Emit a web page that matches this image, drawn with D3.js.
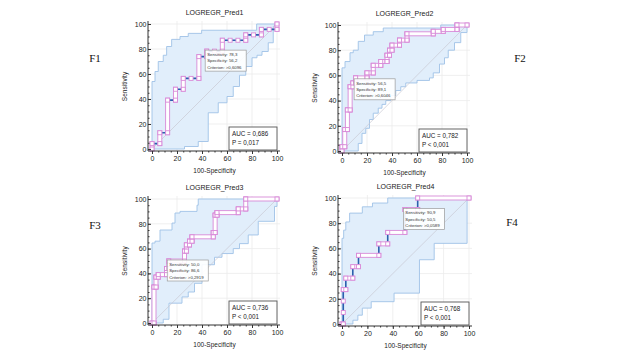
<!DOCTYPE html>
<html>
<head>
<meta charset="utf-8">
<script src="https://cdn.jsdelivr.net/npm/d3@7"></script>
<style>
  body { margin: 0; background: #fff; }
  svg { display: block; }
</style>
</head>
<body>
<svg id="chart" width="640" height="360"></svg>
<script>
// ROC data: [100-Specificity, Sensitivity]
const titles = ["LOGREGR_Pred1", "LOGREGR_Pred2", "LOGREGR_Pred3", "LOGREGR_Pred4"];
const figLabels = ["F1", "F2", "F3", "F4"];
const aucText = ["AUC = 0,686", "AUC = 0,782", "AUC = 0,736", "AUC = 0,768"];
const pText = ["P = 0,017", "P < 0,001", "P < 0,001", "P < 0,001"];
const sensText = ["78,3", "56,5", "50,0", "90,9"];
const specText = ["56,2", "89,1", "86,6", "50,5"];
const critText = [">0,6096", ">0,6046", ">0,2919", ">0,0589"];
const critPoints = [[43.75, 78.3], [10.9, 56.5], [13.4, 50], [49.5, 90.9]];

const roc1 = [[0,0],[0,4.3],[6.25,4.3],[6.25,13],[12.5,13],[12.5,39.1],[18.75,39.1],[18.75,47.8],[25,47.8],[25,56.5],
  [31.25,56.5],[37.5,56.5],[37.5,73.9],[43.75,73.9],[43.75,78.3],[50,78.3],[56.25,78.3],[56.25,87],[62.5,87],[68.75,87],
  [75,87],[75,91.3],[81.25,91.3],[87.5,91.3],[87.5,95.7],[93.75,95.7],[100,95.7],[100,100]];
const roc2 = [[0,0],[0,3.4],[2.2,3.4],[2.2,17],[4.3,17],[4.3,32.6],[6.5,32.6],[6.5,51],[8.7,51],[8.7,54],[10.9,54],[10.9,56.5],
  [10.9,58],[20,58],[20,62],[25,62],[25,68],[31,68],[31,71],[36,71],[36,76],[38,76],[38,80],[40,80],[40,84],[46,84],[46,88],
  [52,88],[52,93],[73,93],[73,95],[81,95],[81,96.5],[92,96.5],[92,100],[100,100]];
const roc3 = [[0,0],[1.6,0],[1.6,29],[3.2,29],[3.2,37],[5,37],[5,39],[11.6,39],[11.6,44],[13.4,44],[13.4,50],[26,50],[26,58],
  [27.5,58],[27.5,63],[30,63],[30,66],[32,66],[32,69.5],[49,69.5],[49,73],[50.5,73],[50.5,87],[52,87],[52,89],[69,89],[69,92],
  [75,92],[75,100],[100,100]];
const roc4 = [[0,0],[1,0],[1,9.1],[1,18.2],[1,27.3],[3,27.3],[3,36.4],[8.5,36.4],[8.5,45.5],[13,45.5],[13,54.5],[29,54.5],
  [29,63.6],[36,63.6],[36,72.7],[49.5,72.7],[49.5,90.9],[59.6,90.9],[59.6,100],[100,100]];

const upper1 = [[0,0],[0,54],[2.4,54],[2.4,62],[5,62],[5,70],[9,70],[9,75],[11.7,75],[11.7,82],[15.7,82],[15.7,87.7],[22.4,87.7],
  [22.4,90],[29,90],[29,92.5],[39.7,92.5],[39.7,95],[83.7,95],[83.7,100],[100,100]];
const lower1 = [[0,0],[26,0],[26,2],[37,2],[37,6],[45,6],[45,29],[53,29],[53,37],[60,37],[60,42],[65,42],[65,50],[70,50],
  [70,59],[75,59],[75,66],[80,66],[80,73],[84,73],[84,75],[88,75],[88,78],[93,78],[93,85],[97,85],[97,98],[100,100]];
const upper2 = [[0,0],[0,66],[2.4,66],[2.4,71],[6.4,71],[6.4,78],[9,78],[9,80],[13,80],[13,87],[18,87],[18,92],[25,92],
  [25,94.7],[33,94.7],[33,97.6],[79,97.6],[79,100],[100,100]];
const lower2 = [[0,0],[13,0],[13,6],[16,6],[16,14],[19,14],[19,18],[22,18],[22,25],[25,25],[25,30],[29,30],[29,34],[32,34],
  [32,37],[35,37],[35,40],[39,40],[39,44],[43,44],[43,48],[47,48],[47,51],[51,51],[51,54],[60,54],[60,56],[70,56],[70,58],
  [73,58],[73,62],[78,62],[78,69],[82,69],[82,74],[85,74],[85,80],[90,80],[90,86],[95,86],[95,94],[100,94],[100,100]];
const upper3 = [[0,0],[0,64.5],[2.4,64.5],[2.4,66],[6.4,66],[6.4,75],[16,75],[16,80.6],[18.4,80.6],[18.4,88.7],[22.4,88.7],
  [22.4,90],[36,90],[36,95],[37,95],[37,100],[100,100]];
const lower3 = [[0,0],[9,0],[9,3],[13.6,3],[13.6,16],[24,16],[24,21],[29,21],[29,25],[34,25],[34,32],[40,32],[40,47],[50,47],
  [50,53],[56,53],[56,56],[65,56],[65,60],[70,60],[70,64],[77,64],[77,71],[85,71],[85,82],[98,82],[98,94],[100,94],[100,100]];
const upper4 = [[0,0],[0,68],[1.3,68],[1.3,74.5],[3,74.5],[3,81],[6,81],[6,88],[16,88],[16,93],[24,93],[24,96],[36,96],
  [36,100],[100,100]];
const lower4 = [[0,0],[8.6,0],[8.6,3],[12.5,3],[12.5,7],[16,7],[16,12.6],[23,12.6],[23,17.7],[41,17.7],[41,24.5],[61,24.5],
  [61,51],[72.6,51],[72.6,64],[98.5,64],[98.5,100],[100,100]];

const rocs = [roc1, roc2, roc3, roc4];
const uppers = [upper1, upper2, upper3, upper4];
const lowers = [lower1, lower2, lower3, lower4];
const majorTicks = [0, 20, 40, 60, 80, 100];

// panel placement (plot area for 0..100 on both axes)
const panels = [
  { left: 152, top: 24, w: 125, h: 125, markH: false, markV: true, fx: 95, fy: 62 },
  { left: 342, top: 25, w: 125, h: 126, markH: true, markV: true, fx: 520, fy: 62 },
  { left: 152, top: 199, w: 125, h: 124, markH: true, markV: true, fx: 95, fy: 229 },
  { left: 342, top: 198, w: 127, h: 126, markH: true, markV: false, fx: 512, fy: 226 }
];

const svg = d3.select("#chart");
const FONT = "Liberation Sans, Arial, sans-serif";

panels.forEach((p, i) => {
  const g = svg.append("g").attr("transform", `translate(${p.left},${p.top})`);
  const x = d3.scaleLinear().domain([0, 100]).range([0, p.w]);
  const y = d3.scaleLinear().domain([0, 100]).range([p.h, 0]);
  const axX = -4, axY = p.h + 2; // axis line offsets

  // grid
  g.selectAll(".gx").data(majorTicks.slice(1)).enter().append("line")
    .attr("x1", d => x(d)).attr("x2", d => x(d)).attr("y1", -3).attr("y2", axY)
    .attr("stroke", "#ebebeb").attr("stroke-width", 0.8);
  g.selectAll(".gy").data(majorTicks.slice(1)).enter().append("line")
    .attr("y1", d => y(d)).attr("y2", d => y(d)).attr("x1", axX).attr("x2", p.w + 3)
    .attr("stroke", "#ebebeb").attr("stroke-width", 0.8);

  // confidence band
  const band = uppers[i].concat(lowers[i].slice().reverse());
  g.append("path")
    .attr("d", d3.line().x(d => x(d[0])).y(d => y(d[1]))(band) + "Z")
    .attr("fill", "#e1eefb").attr("stroke", "#9fc2e7").attr("stroke-width", 0.9);

  // diagonal reference
  g.append("line")
    .attr("x1", x(0)).attr("y1", y(0)).attr("x2", x(100)).attr("y2", y(100))
    .attr("stroke", "#c9c9d3").attr("stroke-width", 0.7);

  // ROC curve
  const roc = rocs[i];
  g.append("path")
    .attr("d", d3.line().x(d => x(d[0])).y(d => y(d[1]))(roc))
    .attr("fill", "none").attr("stroke", "#2b5fae").attr("stroke-width", 1.6);

  // markers along segments
  const segs = d3.pairs(roc).filter(([a, b]) => {
    if (a[0] === b[0]) return p.markV;
    return p.markH;
  });
  g.selectAll(".seg").data(segs).enter().append("rect")
    .attr("x", d => Math.min(x(d[0][0]), x(d[1][0])) - 2)
    .attr("y", d => Math.min(y(d[0][1]), y(d[1][1])) - 2)
    .attr("width", d => Math.abs(x(d[1][0]) - x(d[0][0])) + 4)
    .attr("height", d => Math.abs(y(d[1][1]) - y(d[0][1])) + 4)
    .attr("fill", "#fff").attr("stroke", "#d88ad8").attr("stroke-width", 0.9);
  g.selectAll(".pt").data(roc).enter().append("rect")
    .attr("x", d => x(d[0]) - 2).attr("y", d => y(d[1]) - 2)
    .attr("width", 4).attr("height", 4)
    .attr("fill", "#fff").attr("stroke", "#d88ad8").attr("stroke-width", 0.9);

  // axes: left ticks point inward, bottom ticks point down
  const leftAxis = g.append("g").attr("transform", `translate(${axX},0)`)
    .call(d3.axisLeft(y).tickValues(majorTicks).tickSize(-3).tickPadding(1.5));
  leftAxis.append("g").call(d3.axisLeft(y).tickValues(d3.range(0, 101, 5)).tickSize(-1.5).tickFormat(""));
  const bottomAxis = g.append("g").attr("transform", `translate(0,${axY})`)
    .call(d3.axisBottom(x).tickValues(majorTicks).tickSize(3).tickPadding(2));
  bottomAxis.append("g").call(d3.axisBottom(x).tickValues(d3.range(0, 101, 5)).tickSize(1.5).tickFormat(""));
  [leftAxis, bottomAxis].forEach(a => {
    a.selectAll(".domain").remove();
    a.selectAll("line").attr("stroke", "#333");
    a.selectAll("text").attr("font-family", FONT).attr("font-size", 7).attr("fill", "#222");
  });
  leftAxis.selectAll("text").attr("x", -1.5);
  g.append("line").attr("x1", axX).attr("x2", axX).attr("y1", -3).attr("y2", axY)
    .attr("stroke", "#333").attr("stroke-width", 1);
  g.append("line").attr("x1", axX).attr("x2", p.w + 3).attr("y1", axY).attr("y2", axY)
    .attr("stroke", "#333").attr("stroke-width", 1);

  // titles
  g.append("text").attr("x", p.w / 2).attr("y", -9).attr("text-anchor", "middle")
    .attr("font-family", FONT).attr("font-size", 7).attr("fill", "#222").text(titles[i]);
  g.append("text").attr("transform", `translate(-25,${p.h / 2}) rotate(-90)`).attr("text-anchor", "middle")
    .attr("font-family", FONT).attr("font-size", 6.5).attr("fill", "#222").text("Sensitivity");
  g.append("text").attr("x", p.w / 2).attr("y", p.h + 24).attr("text-anchor", "middle")
    .attr("font-family", FONT).attr("font-size", 6.5).attr("fill", "#222").text("100-Specificity");

  // criterion box
  const cp = critPoints[i];
  const cb = g.append("g").attr("transform", `translate(${x(cp[0]) - 1.5},${y(cp[1]) - 1})`);
  cb.append("rect").attr("width", 41).attr("height", 21)
    .attr("fill", "#fff").attr("fill-opacity", 0.9).attr("stroke", "#9a9a9a").attr("stroke-width", 0.7);
  [`Sensitivity: ${sensText[i]}`, `Specificity: ${specText[i]}`, `Criterion: ${critText[i]}`].forEach((t, k) => {
    cb.append("text").attr("x", 2).attr("y", 6 + k * 6.3)
      .attr("font-family", FONT).attr("font-size", 4.3).attr("fill", "#333").text(t);
  });

  // AUC box
  const ab = g.append("g").attr("transform", `translate(${x(100) - 48},${y(0) - 22})`);
  ab.append("rect").attr("width", 48).attr("height", 23)
    .attr("fill", "#fff").attr("stroke", "#555").attr("stroke-width", 0.9);
  ab.append("text").attr("x", 3).attr("y", 9).attr("font-family", FONT).attr("font-size", 6.3)
    .attr("fill", "#222").text(aucText[i]);
  ab.append("text").attr("x", 3).attr("y", 18).attr("font-family", FONT).attr("font-size", 6.3)
    .attr("fill", "#222").text(pText[i]);

  // figure label
  svg.append("text").attr("x", p.fx).attr("y", p.fy).attr("text-anchor", "middle")
    .attr("font-family", "Liberation Serif, Times New Roman, serif").attr("font-size", 11)
    .attr("fill", "#111").text(figLabels[i]);
});
</script>
</body>
</html>
